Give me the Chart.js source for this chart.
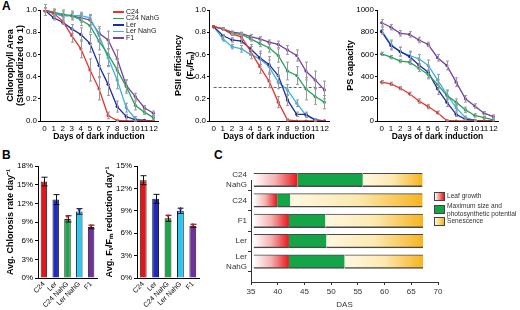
<!DOCTYPE html>
<html lang="en">
<head>
<meta charset="UTF-8">
<title>Dark-induced senescence</title>
<script src="https://cdn.jsdelivr.net/npm/chart.js"></script>
<style>
  body { margin: 0; background: #fff; font-family: "Liberation Sans", Arial, sans-serif; }
  #fig { position: relative; width: 520px; height: 310px; overflow: hidden; }
  #fig canvas { position: absolute; }
  .panel { position: absolute; font-weight: bold; font-size: 12px; }
  .leg { position: absolute; font-size: 7px; color: #222; white-space: nowrap; line-height: 7px; }
  .leg i { display: inline-block; width: 11px; height: 1.5px; vertical-align: middle; margin-right: 2px; }
  .cleg { position: absolute; font-size: 6.6px; color: #333; line-height: 7.6px; white-space: nowrap; }
  .cleg b { position: absolute; left: 0; width: 9px; height: 7px; border: 1px solid #444; }
  .cleg span { position: absolute; left: 13px; }
</style>
</head>
<body>
<div id="fig">
  <div class="panel" style="left:2px;top:-1px">A</div>
  <div class="panel" style="left:2px;top:148px">B</div>
  <div class="panel" style="left:214px;top:148px">C</div>

  <canvas id="chlChart" width="170" height="150" style="left:0;top:0"></canvas>
  <canvas id="psiiChart" width="170" height="150" style="left:170px;top:0"></canvas>
  <canvas id="capChart" width="180" height="150" style="left:340px;top:0"></canvas>
  <canvas id="chlRateChart" width="105" height="160" style="left:0;top:150px"></canvas>
  <canvas id="fvfmRateChart" width="115" height="160" style="left:99px;top:150px"></canvas>
  <canvas id="phaseChart" width="240" height="160" style="left:205px;top:150px"></canvas>

  <div id="lineLegend"></div>
  <div id="phaseLegend"></div>
</div>

<script>
  // ---- data ----
  const days = ['0', '1', '2', '3', '4', '5', '6', '7', '8', '9', '10', '11', '12'];
  const genotypes = ['C24', 'C24 NahG', 'Ler', 'Ler NahG', 'F1'];
  const lineColors = ['#e8342f', '#23a35a', '#1e2aa8', '#3ab4e6', '#7a3f9d'];

  // chlorophyll area (standardized), rows in genotype order
  const chlArea = [
    [1.0, 0.97, 0.90, 0.77, 0.65, 0.46, 0.29, 0.05, 0.005, 0, 0, 0, 0],
    [1.0, 0.98, 0.96, 0.95, 0.91, 0.86, 0.72, 0.60, 0.46, 0.31, 0.14, 0.08, 0.03],
    [1.0, 0.93, 0.89, 0.83, 0.78, 0.70, 0.50, 0.33, 0.13, 0.04, 0.01, 0.005, 0],
    [1.0, 0.97, 0.95, 0.95, 0.95, 0.93, 0.77, 0.57, 0.37, 0.12, 0.02, 0.005, 0],
    [1.0, 0.97, 0.95, 0.95, 0.93, 0.91, 0.79, 0.73, 0.56, 0.32, 0.22, 0.12, 0.07]
  ];
  const chlAreaErr = [
    [0.05, 0.03, 0.03, 0.06, 0.08, 0.10, 0.10, 0.03, 0.01, 0, 0, 0, 0],
    [0.02, 0.02, 0.03, 0.03, 0.05, 0.06, 0.08, 0.10, 0.10, 0.06, 0.04, 0.02, 0.02],
    [0.02, 0.02, 0.02, 0.04, 0.06, 0.08, 0.10, 0.10, 0.05, 0.02, 0.01, 0, 0],
    [0.02, 0.02, 0.02, 0.02, 0.03, 0.03, 0.06, 0.08, 0.08, 0.04, 0.02, 0, 0],
    [0.02, 0.04, 0.05, 0.04, 0.04, 0.04, 0.06, 0.08, 0.08, 0.05, 0.03, 0.02, 0.02]
  ];

  // PSII efficiency Fv/Fm
  const psii = [
    [0.85, 0.83, 0.78, 0.76, 0.63, 0.49, 0.36, 0.17, 0.01, 0, 0, 0, 0],
    [0.85, 0.83, 0.79, 0.78, 0.74, 0.70, 0.66, 0.59, 0.45, 0.41, 0.29, 0.22, 0.17],
    [0.85, 0.77, 0.73, 0.72, 0.65, 0.57, 0.51, 0.41, 0.19, 0.06, 0.06, 0.01, 0],
    [0.85, 0.74, 0.67, 0.65, 0.60, 0.56, 0.49, 0.35, 0.28, 0.16, 0.05, 0.01, 0],
    [0.85, 0.83, 0.80, 0.79, 0.76, 0.74, 0.71, 0.69, 0.64, 0.59, 0.45, 0.37, 0.28]
  ];
  const psiiErr = [
    [0, 0.01, 0.01, 0.02, 0.04, 0.06, 0.06, 0.05, 0.01, 0, 0, 0, 0],
    [0, 0.01, 0.01, 0.01, 0.02, 0.03, 0.04, 0.06, 0.08, 0.08, 0.10, 0.07, 0.06],
    [0, 0.01, 0.02, 0.02, 0.04, 0.06, 0.07, 0.07, 0.05, 0.02, 0.02, 0.01, 0],
    [0, 0.02, 0.02, 0.03, 0.04, 0.05, 0.06, 0.06, 0.05, 0.03, 0.02, 0.01, 0],
    [0, 0.01, 0.01, 0.01, 0.02, 0.02, 0.02, 0.03, 0.04, 0.05, 0.08, 0.08, 0.08]
  ];
  const psiiThreshold = 0.31;

  // PS capacity
  const psCap = [
    [350, 335, 295, 245, 180, 130, 75, 5, 0, 0, 0, 0, 0],
    [605, 575, 540, 530, 475, 420, 330, 230, 170, 100, 50, 30, 10],
    [805, 680, 625, 580, 505, 440, 290, 170, 60, 15, 5, 0, 0],
    [815, 690, 625, 590, 560, 500, 370, 240, 120, 30, 5, 0, 0],
    [885, 845, 790, 780, 730, 690, 570, 500, 350, 200, 135, 70, 40]
  ];
  const psCapErr = [
    [15, 15, 15, 15, 20, 20, 15, 5, 0, 0, 0, 0, 0],
    [15, 15, 15, 20, 30, 40, 40, 40, 30, 25, 15, 10, 10],
    [20, 40, 40, 40, 40, 50, 50, 40, 20, 10, 5, 0, 0],
    [30, 40, 40, 40, 40, 50, 50, 40, 30, 15, 5, 0, 0],
    [30, 25, 25, 25, 25, 20, 30, 40, 40, 30, 20, 15, 15]
  ];

  // B: average rates per day (%)
  const barGenotypes = ['C24', 'Ler', 'C24 NahG', 'Ler NahG', 'F1'];
  const barColors = ['#e8141b', '#1e2ac0', '#1aa64a', '#29c8f2', '#7030a0'];
  const chlorosisRate = [15.5, 12.6, 9.5, 10.7, 8.2];
  const chlorosisErr = [0.7, 0.8, 0.5, 0.45, 0.3];
  const fvfmRate = [13.1, 10.6, 8.0, 9.0, 7.0];
  const fvfmErr = [0.6, 0.6, 0.4, 0.35, 0.2];
  const starColors = [null, null, '#e8141b', '#1e2ac0', '#e8141b'];

  // C: developmental phases (DAS)
  const phaseLines = [['C24', 'NahG'], 'C24', 'F1', 'Ler', ['Ler', 'NahG'], ''];
  const phaseStart = [35.5, 35.5, 35.5, 35.5, 35.5];
  const growthEnd = [43.7, 39.9, 42.1, 42.1, 42.1];
  const maxSizeEnd = [55.9, 42.3, 48.9, 49.1, 52.5];
  const senescenceEnd = [67.1, 67.1, 67.2, 67.2, 67.2];
  const phaseNames = ['Leaf growth', 'Maximum size and\nphotosynthetic potential', 'Senescence'];

  Chart.defaults.font.family = '"Liberation Sans", Arial, sans-serif';
  Chart.defaults.color = '#000';
  Chart.defaults.animation = false;
  Chart.defaults.plugins.legend.display = false;
  Chart.defaults.plugins.tooltip.enabled = false;

  // vertical error bars, values in dataset.errors
  const errorBars = {
    id: 'errorBars',
    afterDatasetsDraw(chart, args, opts) {
      const ctx = chart.ctx;
      const yScale = chart.scales.y;
      ctx.save();
      ctx.strokeStyle = opts.color;
      ctx.lineWidth = 1;
      chart.data.datasets.forEach((ds, di) => {
        if (!ds.errors) return;
        chart.getDatasetMeta(di).data.forEach((el, i) => {
          const e = ds.errors[i];
          if (!e) return;
          const v = ds.data[i];
          const x = Math.round(el.x) + 0.5;
          const y1 = yScale.getPixelForValue(v + e);
          const y2 = yScale.getPixelForValue(v - e);
          ctx.beginPath();
          ctx.moveTo(x, y1); ctx.lineTo(x, y2);
          ctx.moveTo(x - opts.cap, y1); ctx.lineTo(x + opts.cap, y1);
          ctx.moveTo(x - opts.cap, y2); ctx.lineTo(x + opts.cap, y2);
          ctx.stroke();
        });
      });
      ctx.restore();
    }
  };

  // significance stars above the bars
  const stars = {
    id: 'stars',
    afterDatasetsDraw(chart) {
      const ctx = chart.ctx;
      const ds = chart.data.datasets[0];
      const yScale = chart.scales.y;
      ctx.save();
      ctx.font = 'bold 9px "Liberation Sans", Arial';
      ctx.textAlign = 'center';
      ctx.textBaseline = 'alphabetic';
      chart.getDatasetMeta(0).data.forEach((el, i) => {
        if (!starColors[i]) return;
        ctx.fillStyle = starColors[i];
        ctx.fillText('*', el.x, yScale.getPixelForValue(ds.data[i] + ds.errors[i]) + 5);
      });
      ctx.restore();
    }
  };

  // dashed reference line across the PSII panel
  const threshold = {
    id: 'threshold',
    beforeDatasetsDraw(chart, args, opts) {
      const ctx = chart.ctx;
      const x = chart.scales.x, y = chart.scales.y;
      const py = Math.round(y.getPixelForValue(opts.value)) + 0.5;
      ctx.save();
      ctx.strokeStyle = '#666';
      ctx.lineWidth = 1;
      ctx.setLineDash([3, 2]);
      ctx.beginPath();
      ctx.moveTo(x.getPixelForValue(0), py);
      ctx.lineTo(x.getPixelForValue(days.length - 1), py);
      ctx.stroke();
      ctx.restore();
    }
  };

  function lineChart(id, values, errors, cfg) {
    return new Chart(document.getElementById(id), {
      type: 'line',
      data: {
        labels: days,
        datasets: genotypes.map((g, i) => ({
          label: g,
          data: values[i],
          errors: errors[i],
          borderColor: lineColors[i],
          backgroundColor: lineColors[i],
          borderWidth: 1.3,
          pointRadius: 1.6,
          pointBorderWidth: 0,
          tension: 0
        }))
      },
      options: {
        responsive: false,
        layout: { padding: cfg.padding },
        plugins: {
          errorBars: { color: '#9a9a9a', cap: 1.5 },
          threshold: cfg.threshold || false
        },
        scales: {
          x: {
            offset: true,
            grid: { display: false, drawTicks: false },
            border: { color: '#000' },
            ticks: { font: { size: 8 }, padding: 3, autoSkip: false, maxRotation: 0 },
            title: { display: true, text: 'Days of dark induction', font: { size: 8.5, weight: 'bold' }, padding: 0 },
            afterFit: s => { s.height = 21; }
          },
          y: {
            min: 0,
            max: cfg.max,
            ticks: { stepSize: cfg.step, font: { size: 8 }, padding: 1, callback: cfg.fmt },
            grid: { drawOnChartArea: false, tickLength: 2, color: '#000' },
            border: { color: '#000' },
            title: {
              display: true,
              text: cfg.title,
              font: { size: 9, weight: 'bold', lineHeight: cfg.lineHeight || 1.1 },
              padding: { top: cfg.titlePad, bottom: 0 }
            },
            afterFit: s => { s.width = cfg.yWidth; }
          }
        }
      },
      plugins: [errorBars, threshold]
    });
  }

  lineChart('chlChart', chlArea, chlAreaErr, {
    max: 1, step: 0.2, fmt: v => v.toFixed(1),
    title: ['Chlorophyll Area', '(Standardized to 1)'],
    titlePad: 6, yWidth: 40, padding: { left: 0, top: 10, right: 12, bottom: 8 }
  });

  lineChart('psiiChart', psii, psiiErr, {
    max: 1, step: 0.2, fmt: v => v.toFixed(1),
    title: ['PSII efficiency', '(F\u1D65/F\u2098)'],
    titlePad: 2, lineHeight: 1.4, yWidth: 39, padding: { left: 0, top: 10, right: 11, bottom: 8 },
    threshold: { value: psiiThreshold }
  });

  lineChart('capChart', psCap, psCapErr, {
    max: 1000, step: 200, fmt: v => v,
    title: 'PS capacity',
    titlePad: 6, yWidth: 37, padding: { left: 0, top: 10, right: 22, bottom: 8 }
  });

  function rateChart(id, values, errors, cfg) {
    return new Chart(document.getElementById(id), {
      type: 'bar',
      data: {
        labels: barGenotypes,
        datasets: [{
          data: values,
          errors: errors,
          backgroundColor: barColors,
          borderColor: '#222',
          borderWidth: 1,
          barPercentage: 0.55,
          categoryPercentage: 1
        }]
      },
      options: {
        responsive: false,
        layout: { padding: cfg.padding },
        plugins: { errorBars: { color: '#111', cap: 3 } },
        scales: {
          x: {
            grid: { display: false, drawTicks: false },
            border: { color: '#000' },
            ticks: { font: { size: 7 }, padding: 2, autoSkip: false, minRotation: 45, maxRotation: 45 },
            afterFit: s => { s.height = 32; }
          },
          y: {
            min: 0,
            max: cfg.max,
            ticks: { stepSize: 3, font: { size: 8 }, padding: 2, callback: v => v + '%' },
            grid: { drawOnChartArea: false, tickLength: 3, color: '#000' },
            border: { color: '#000' },
            title: { display: true, text: cfg.title, font: { size: 9, weight: 'bold' }, padding: { top: 5, bottom: 0 } },
            afterFit: s => { s.width = 38; }
          }
        }
      },
      plugins: [errorBars, stars]
    });
  }

  rateChart('chlRateChart', chlorosisRate, chlorosisErr, {
    max: 18, title: 'Avg. Chlorosis rate day\u207B\u00B9',
    padding: { left: 0, top: 16, right: 8, bottom: 0 }
  });

  rateChart('fvfmRateChart', fvfmRate, fvfmErr, {
    max: 15, title: 'Avg. F\u1D65/F\u2098 reduction day\u207B\u00B9',
    padding: { left: 0, top: 16, right: 15, bottom: 0 }
  });

  // gradient fill along each floating bar
  function barGradient(stops) {
    return c => {
      const chart = c.chart;
      if (!chart.chartArea || !Array.isArray(c.raw)) return stops[stops.length - 1];
      const x = chart.scales.x;
      const g = chart.ctx.createLinearGradient(x.getPixelForValue(c.raw[0]), 0, x.getPixelForValue(c.raw[1]), 0);
      stops.forEach((col, i) => g.addColorStop(i / (stops.length - 1), col));
      return g;
    };
  }

  const phaseBarStyle = {
    borderColor: '#4a4a4a',
    borderWidth: { top: 1, bottom: 1.5, left: 0, right: 0 },
    borderSkipped: false,
    barThickness: 13.5,
    grouped: false,
    clip: false
  };

  new Chart(document.getElementById('phaseChart'), {
    type: 'bar',
    data: {
      labels: phaseLines,
      datasets: [
        Object.assign({
          label: phaseNames[0],
          data: phaseStart.map((s, i) => [s, growthEnd[i]]),
          backgroundColor: barGradient(['#ffffff', '#f6b0b0', '#e8161b'])
        }, phaseBarStyle),
        Object.assign({
          label: phaseNames[1],
          data: growthEnd.map((s, i) => [s, maxSizeEnd[i]]),
          backgroundColor: '#13a548'
        }, phaseBarStyle),
        Object.assign({
          label: phaseNames[2],
          data: maxSizeEnd.map((s, i) => [s, senescenceEnd[i]]),
          backgroundColor: barGradient(['#fff8e2', '#fde9b0', '#f6b420'])
        }, phaseBarStyle)
      ]
    },
    options: {
      responsive: false,
      indexAxis: 'y',
      layout: { padding: { left: 0, top: 30, right: 7, bottom: 0 } },
      scales: {
        x: {
          min: 35,
          max: 70,
          ticks: { stepSize: 5, font: { size: 8 }, color: '#333', padding: 2 },
          grid: { drawOnChartArea: false, tickLength: 3, color: '#333' },
          border: { color: '#333' },
          title: { display: true, text: 'DAS', color: '#333', font: { size: 8 }, padding: 0 },
          afterFit: s => { s.height = 28; }
        },
        y: {
          offset: false,
          ticks: { font: { size: 8 }, color: '#333', padding: 1, autoSkip: false },
          grid: { drawOnChartArea: false, tickLength: 3, color: '#333' },
          border: { color: '#333' },
          afterFit: s => { s.width = 46; }
        }
      }
    }
  });

  // legend for the A1 line panel
  const lineLegend = document.getElementById('lineLegend');
  genotypes.forEach((g, i) => {
    const row = document.createElement('div');
    row.className = 'leg';
    row.style.left = '113px';
    row.style.top = (8 + i * 6.4) + 'px';
    row.innerHTML = `<i style="background:${lineColors[i]}"></i>${g}`;
    lineLegend.appendChild(row);
  });

  // legend for the phase panel
  const boxFills = [
    'linear-gradient(to right, #fff, #e8161b)',
    '#13a548',
    'linear-gradient(to right, #fff8e2, #f6b420)'
  ];
  const boxTops = [192, 205, 217];
  const phaseLegend = document.getElementById('phaseLegend');
  phaseNames.forEach((name, i) => {
    const item = document.createElement('div');
    item.className = 'cleg';
    item.style.left = '434px';
    item.style.top = boxTops[i] + 'px';
    const lines = name.split('\n');
    item.innerHTML = `<b style="background:${boxFills[i]}"></b><span style="top:${lines.length > 1 ? -3 : 0}px">${lines.join('<br>')}</span>`;
    phaseLegend.appendChild(item);
  });
</script>
</body>
</html>
